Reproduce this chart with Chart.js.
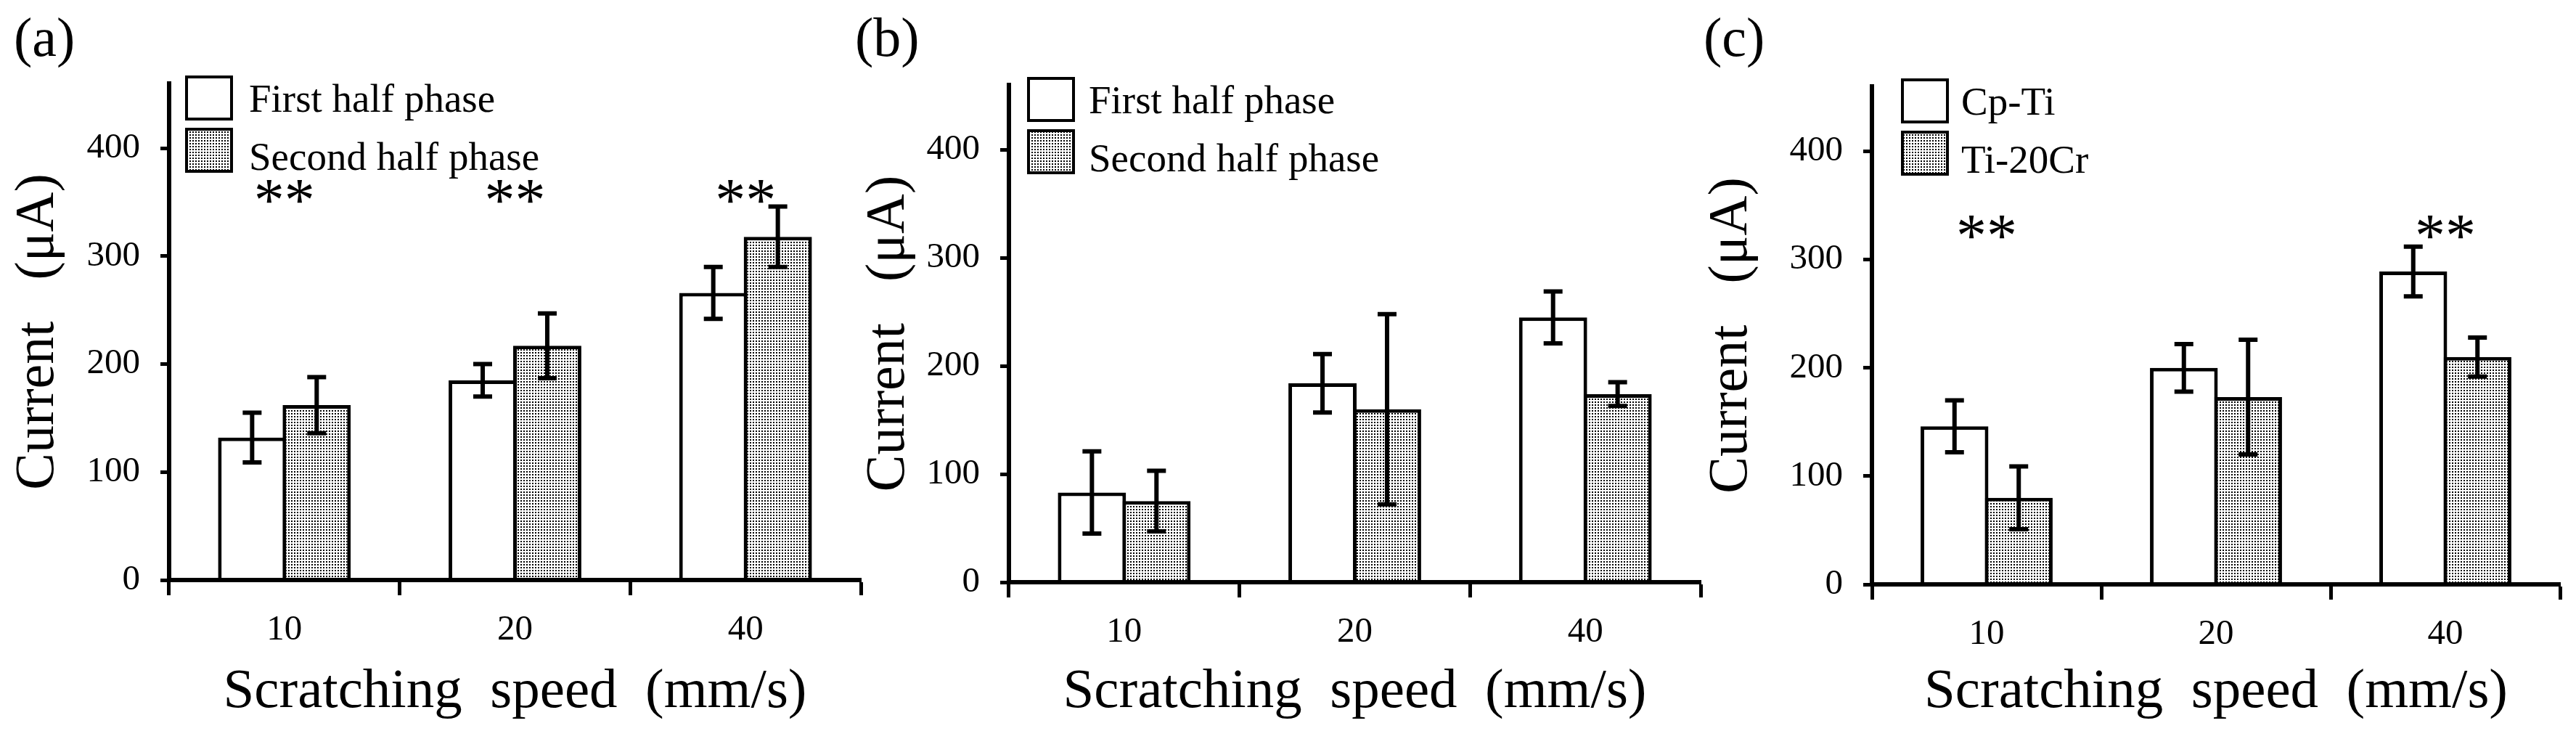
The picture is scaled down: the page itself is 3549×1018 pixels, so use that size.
<!DOCTYPE html>
<html>
<head>
<meta charset="utf-8">
<script src="https://cdn.jsdelivr.net/npm/chart.js@4.4.0/dist/chart.umd.min.js"></script>
<style>
  body { margin: 0; background: #fff; overflow: hidden; }
  .panel { position: absolute; top: 0; height: 1018px; }
</style>
</head>
<body>
<div class="panel" style="left:0px;width:1192px"><canvas id="chartA"></canvas></div>
<div class="panel" style="left:1172px;width:1180px"><canvas id="chartB"></canvas></div>
<div class="panel" style="left:2333px;width:1216px"><canvas id="chartC"></canvas></div>
<script>
// categories (scratching speed, mm/s)
const speeds = ['10', '20', '40'];
const yMax = 460;
const yStep = 100;

// (a)
const firstA = [132, 185, 266];
const firstErrA = [23, 15, 24];
const secondA = [162, 217, 318];
const secondErrA = [26, 30, 28];
const starsA = ['**', '**', '**'];
const starLevelA = 359;

// (b)
const firstB = [83, 184, 245];
const firstErrB = [38, 27, 24];
const secondB = [75, 160, 174];
const secondErrB = [28, 88, 11];
const starsB = ['', '', ''];
const starLevelB = 0;

// (c)
const cpTi = [146, 200, 289];
const cpTiErr = [24, 22, 23];
const ti20Cr = [80, 173, 210];
const ti20CrErr = [29, 53, 18];
const starsC = ['**', '', '**'];
const starLevelC = 329;

const FONT = '"Liberation Serif", "Times New Roman", serif';

// dotted grey fill like the original stipple
function dotPattern() {
  const c = document.createElement('canvas');
  c.width = 4;
  c.height = 4;
  const g = c.getContext('2d');
  g.fillStyle = '#fff';
  g.fillRect(0, 0, 4, 4);
  g.fillStyle = '#000';
  g.fillRect(1, 1, 2, 2);
  return g.createPattern(c, 'repeat');
}
const dots = dotPattern();

// one plugin per chart: error bars, stars, inner legend, panel tag, y axis line
function makeOverlay(p) {
  return {
    id: 'overlay',
    afterDatasetsDraw(chart) {
      const ctx = chart.ctx;
      const y = chart.scales.y;
      ctx.save();
      ctx.strokeStyle = '#000';
      ctx.lineWidth = 6;
      chart.data.datasets.forEach((ds, i) => {
        chart.getDatasetMeta(i).data.forEach((bar, j) => {
          const top = y.getPixelForValue(ds.data[j] + ds.errors[j]);
          const bottom = y.getPixelForValue(ds.data[j] - ds.errors[j]);
          ctx.beginPath();
          ctx.moveTo(bar.x, top);
          ctx.lineTo(bar.x, bottom);
          ctx.moveTo(bar.x - 13, top);
          ctx.lineTo(bar.x + 13, top);
          ctx.moveTo(bar.x - 13, bottom);
          ctx.lineTo(bar.x + 13, bottom);
          ctx.stroke();
        });
      });
      ctx.restore();
    },
    afterDraw(chart) {
      const ctx = chart.ctx;
      const area = chart.chartArea;
      const xs = chart.scales.x;
      const ys = chart.scales.y;
      ctx.save();
      ctx.fillStyle = '#000';
      ctx.textBaseline = 'alphabetic';

      // significance marks
      ctx.font = '84px ' + FONT;
      ctx.textAlign = 'center';
      p.stars.forEach((m, j) => {
        if (!m) return;
        ctx.fillText(m, xs.getPixelForValue(j), ys.getPixelForValue(p.starLevel) + 39);
      });

      // legend inside the plot
      const boxTops = [-9, 63];
      const baselines = [39, 119];
      ctx.font = '55px ' + FONT;
      ctx.textAlign = 'left';
      chart.data.datasets.forEach((ds, i) => {
        const bx = area.left + p.boxX;
        const by = area.top + boxTops[i];
        ctx.fillStyle = ds.backgroundColor;
        ctx.fillRect(bx, by, 62, 58);
        ctx.strokeStyle = '#000';
        ctx.lineWidth = 4;
        ctx.strokeRect(bx, by, 62, 58);
        ctx.fillStyle = '#000';
        ctx.fillText(ds.label, area.left + p.textX, area.top + baselines[i]);
      });

      // (a) (b) (c)
      ctx.font = '76px ' + FONT;
      ctx.fillText(p.tag, p.tagX, 77);

      // y axis line
      ctx.strokeStyle = '#000';
      ctx.lineWidth = 6;
      ctx.beginPath();
      ctx.moveTo(ys.right, ys.top);
      ctx.lineTo(ys.right, ys.bottom + 3);
      ctx.stroke();
      ctx.restore();
    }
  };
}

function makeConfig(p) {
  return {
    type: 'bar',
    data: {
      labels: speeds,
      datasets: [
        {
          label: p.names[0],
          data: p.first,
          errors: p.firstErr,
          backgroundColor: '#fff',
          borderColor: '#000',
          borderWidth: 5,
          inflateAmount: 0,
          barPercentage: 1.056,
          categoryPercentage: 0.56
        },
        {
          label: p.names[1],
          data: p.second,
          errors: p.secondErr,
          backgroundColor: dots,
          borderColor: '#000',
          borderWidth: 5,
          inflateAmount: 0,
          barPercentage: 1.056,
          categoryPercentage: 0.56
        }
      ]
    },
    options: {
      responsive: true,
      maintainAspectRatio: false,
      animation: false,
      layout: {
        padding: { left: 0, top: p.top, right: p.right, bottom: 0 }
      },
      plugins: {
        legend: { display: false },
        tooltip: { enabled: false }
      },
      scales: {
        x: {
          grid: {
            z: 1,
            offset: true,
            drawOnChartArea: false,
            tickLength: 21,
            tickWidth: 5,
            tickColor: '#000'
          },
          border: { display: true, color: '#000', width: 6, z: 2 },
          ticks: {
            color: '#000',
            padding: 19,
            font: { family: FONT, size: 49 }
          },
          title: {
            display: true,
            text: 'Scratching  speed  (mm/s)',
            color: '#000',
            padding: { top: 0, bottom: 18 },
            font: { family: FONT, size: 77 }
          },
          afterFit: function(scale) {
            scale.height = p.xHeight;
          }
        },
        y: {
          min: 0,
          max: yMax,
          grid: {
            z: 1,
            drawOnChartArea: false,
            tickLength: 12,
            tickWidth: 5,
            tickColor: '#000'
          },
          border: { display: true, color: '#000', width: 6, z: 2 },
          ticks: {
            stepSize: yStep,
            includeBounds: false,
            color: '#000',
            padding: 28,
            font: { family: FONT, size: 49 }
          },
          title: {
            display: true,
            text: 'Current   (μA)',
            color: '#000',
            padding: { top: 7, bottom: 0 },
            font: { family: FONT, size: 76 }
          },
          afterFit: function(scale) {
            scale.width = p.yWidth;
          }
        }
      }
    },
    plugins: [makeOverlay(p)]
  };
}

const configA = makeConfig({
  names: ['First half phase', 'Second half phase'],
  first: firstA, firstErr: firstErrA, second: secondA, secondErr: secondErrA,
  stars: starsA, starLevel: starLevelA,
  tag: '(a)', tagX: 19,
  top: 115, right: 6, yWidth: 233, xHeight: 219,
  boxX: 24, textX: 110
});

const configB = makeConfig({
  names: ['First half phase', 'Second half phase'],
  first: firstB, firstErr: firstErrB, second: secondB, secondErr: secondErrB,
  stars: starsB, starLevel: starLevelB,
  tag: '(b)', tagX: 6,
  top: 117, right: 9, yWidth: 218, xHeight: 216,
  boxX: 27, textX: 110
});

const configC = makeConfig({
  names: ['Cp-Ti', 'Ti-20Cr'],
  first: cpTi, firstErr: cpTiErr, second: ti20Cr, secondErr: ti20CrErr,
  stars: starsC, starLevel: starLevelC,
  tag: '(c)', tagX: 14,
  top: 119, right: 22, yWidth: 246, xHeight: 213,
  boxX: 42, textX: 123
});

var chartA = new Chart(document.getElementById('chartA'), configA);
var chartB = new Chart(document.getElementById('chartB'), configB);
var chartC = new Chart(document.getElementById('chartC'), configC);
</script>
</body>
</html>
